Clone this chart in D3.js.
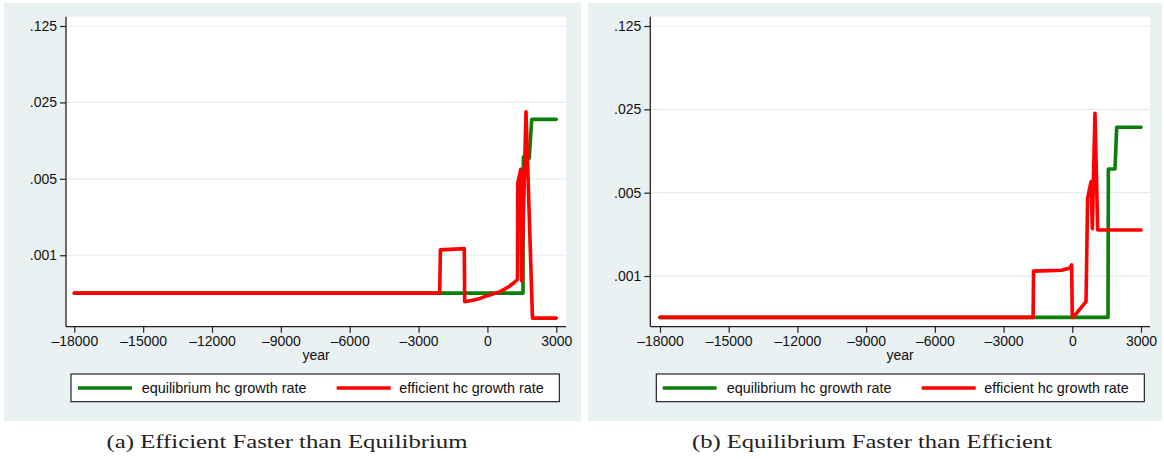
<!DOCTYPE html>
<html>
<head>
<meta charset="utf-8">
<script src="https://cdn.jsdelivr.net/npm/d3@7"></script>
<style>
  html, body { margin: 0; padding: 0; background: #ffffff; }
  svg { display: block; }
  .tick text { font-family: "Liberation Sans", Arial, sans-serif; }
</style>
</head>
<body>
<svg id="chart" width="1164" height="459"></svg>
<script>
// ---- data: human-capital growth rates by year ----
const yTickValues = [0.001, 0.005, 0.025, 0.125];
const yTickLabels = [".001", ".005", ".025", ".125"];
const xTickValues = [-18000, -15000, -12000, -9000, -6000, -3000, 0, 3000];

const seriesNames = ["equilibrium hc growth rate", "efficient hc growth rate"];

// Panel (a): efficient faster than equilibrium
const eqYearsA = [-18000, 1550, 1565, 1820, 1930, 3000];
const eqRatesA = [0.00045, 0.00045, 0.0079, 0.0077, 0.0175, 0.0175];
const effYearsA = [-18000, -2080, -2050, -1010, -990, -700, -400, -180, 100, 350, 548, 750, 980, 1150, 1310,
                   1320, 1450, 1493, 1680, 1911, 1963, 3000];
const effRatesA = [0.00045, 0.00045, 0.00112, 0.00115, 0.000376, 0.000386, 0.000397, 0.000414, 0.000432,
                   0.00045, 0.000465, 0.00049, 0.000524, 0.00056, 0.0006, 0.00455, 0.0061, 0.00058, 0.0205,
                   0.00058, 0.000266, 0.000266];

// Panel (b): equilibrium faster than efficient
const eqYearsB = [-18000, 1560, 1575, 1865, 1940, 3000];
const eqRatesB = [0.00045, 0.00045, 0.0079, 0.0079, 0.0177, 0.0177];
const effYearsB = [-18000, -1710, -1690, -1000, -463, -100, -27, 0, 200, 344, 600, 670, 820, 875,
                   990, 1110, 3000];
const effRatesB = [0.00045, 0.00045, 0.0011, 0.00111, 0.00112, 0.00117, 0.00124, 0.00045, 0.00049,
                   0.00053, 0.00061, 0.0045, 0.0062, 0.0025, 0.0232, 0.00243, 0.00243];

const captions = ["(a) Efficient Faster than Equilibrium", "(b) Equilibrium Faster than Efficient"];

// ---- styles ----
const panelFill = "#eaf1f3";
const gridColor = "#e4ecee";
const eqColor = "#0a800a";
const effColor = "#ff0000";
const lineWidth = 3.6;

const svg = d3.select("#chart");

const panels = [
  {
    bg: [4, 3, 577, 418],
    plot: {left: 66, right: 566, top: 16.7, bottom: 326.7},
    xDomain: [-18362, 3423],
    yDomain: [0.000222, 0.152],
    eq: [eqYearsA, eqRatesA],
    eff: [effYearsA, effRatesA],
    legend: {x: 71, w: 488.3, line1: 78, text1: 141.7, line2: 336.7, text2: 399.3},
    caption: captions[0], capX: 287, capW: 361
  },
  {
    bg: [588, 3, 574, 418],
    plot: {left: 650.3, right: 1150, top: 16.7, bottom: 326.7},
    xDomain: [-18423, 3393],
    yDomain: [0.000376, 0.1496],
    eq: [eqYearsB, eqRatesB],
    eff: [effYearsB, effRatesB],
    legend: {x: 656.3, w: 488, line1: 662.7, text1: 726.7, line2: 921.7, text2: 984.3},
    caption: captions[1], capX: 872, capW: 360
  }
];

panels.forEach(p => {
  const g = svg.append("g");

  // outer graph region
  g.append("rect")
    .attr("x", p.bg[0]).attr("y", p.bg[1])
    .attr("width", p.bg[2]).attr("height", p.bg[3])
    .attr("fill", panelFill);

  // plot region
  g.append("rect")
    .attr("x", p.plot.left).attr("y", p.plot.top)
    .attr("width", p.plot.right - p.plot.left)
    .attr("height", p.plot.bottom - p.plot.top)
    .attr("fill", "#ffffff");

  const x = d3.scaleLinear().domain(p.xDomain).range([p.plot.left, p.plot.right]);
  const y = d3.scaleLog().domain(p.yDomain).range([p.plot.bottom, p.plot.top]);

  // horizontal gridlines
  g.append("g").selectAll("line")
    .data(yTickValues)
    .join("line")
    .attr("x1", p.plot.left).attr("x2", p.plot.right)
    .attr("y1", d => y(d)).attr("y2", d => y(d))
    .attr("stroke", gridColor).attr("stroke-width", 1.2);

  // series lines
  const line = d3.line().x(d => x(d[0])).y(d => y(d[1]));
  const toPts = (ys, vs) => ys.map((yr, i) => [yr, vs[i]]);

  g.append("path")
    .datum(toPts(p.eq[0], p.eq[1]))
    .attr("d", line)
    .attr("fill", "none")
    .attr("stroke", eqColor)
    .attr("stroke-width", lineWidth)
    .attr("stroke-linejoin", "round")
    .attr("stroke-linecap", "round");

  g.append("path")
    .datum(toPts(p.eff[0], p.eff[1]))
    .attr("d", line)
    .attr("fill", "none")
    .attr("stroke", effColor)
    .attr("stroke-width", lineWidth)
    .attr("stroke-linejoin", "round")
    .attr("stroke-linecap", "round");

  // y axis
  const yAxis = d3.axisLeft(y)
    .tickValues(yTickValues)
    .tickFormat((d, i) => yTickLabels[i])
    .tickSize(6).tickPadding(3).tickSizeOuter(0);
  const ya = g.append("g")
    .attr("transform", `translate(${p.plot.left},0)`)
    .call(yAxis);
  ya.select(".domain").attr("d", `M0,${p.plot.top}V${p.plot.bottom}`);

  // x axis
  const xAxis = d3.axisBottom(x)
    .tickValues(xTickValues)
    .tickFormat(d => d < 0 ? "\u2013" + Math.abs(d) : String(d))
    .tickSize(6).tickPadding(3).tickSizeOuter(0);
  const xa = g.append("g")
    .attr("transform", `translate(0,${p.plot.bottom})`)
    .call(xAxis);
  xa.select(".domain").attr("d", `M${p.plot.left},0H${p.plot.right}`);

  [ya, xa].forEach(a => {
    a.select(".domain").attr("stroke", "#222").attr("stroke-width", 1.3);
    a.selectAll(".tick line").attr("stroke", "#222").attr("stroke-width", 1.2);
    a.selectAll(".tick text").attr("fill", "#111").style("font-size", "14px");
  });

  // x axis title
  g.append("text")
    .attr("x", (p.plot.left + p.plot.right) / 2)
    .attr("y", 360)
    .attr("text-anchor", "middle")
    .style("font-family", "'Liberation Sans', Arial, sans-serif")
    .style("font-size", "14px")
    .attr("fill", "#111")
    .text("year");

  // legend
  const lg = g.append("g");
  lg.append("rect")
    .attr("x", p.legend.x).attr("y", 374)
    .attr("width", p.legend.w).attr("height", 27.7)
    .attr("fill", "#ffffff").attr("stroke", "#111").attr("stroke-width", 1.1);
  const items = [
    {color: eqColor, name: seriesNames[0], lx: p.legend.line1, tx: p.legend.text1},
    {color: effColor, name: seriesNames[1], lx: p.legend.line2, tx: p.legend.text2}
  ];
  items.forEach(it => {
    lg.append("line")
      .attr("x1", it.lx).attr("x2", it.lx + 54)
      .attr("y1", 388).attr("y2", 388)
      .attr("stroke", it.color).attr("stroke-width", lineWidth);
    lg.append("text")
      .attr("x", it.tx).attr("y", 392.5)
      .style("font-family", "'Liberation Sans', Arial, sans-serif")
      .style("font-size", "14.4px")
      .attr("fill", "#111")
      .text(it.name);
  });

  // caption
  svg.append("text")
    .attr("x", p.capX).attr("y", 448)
    .attr("text-anchor", "middle")
    .attr("textLength", p.capW)
    .attr("lengthAdjust", "spacingAndGlyphs")
    .style("font-family", "'Liberation Serif', 'Times New Roman', serif")
    .style("font-size", "19px")
    .attr("fill", "#222")
    .text(p.caption);
});
</script>
</body>
</html>
